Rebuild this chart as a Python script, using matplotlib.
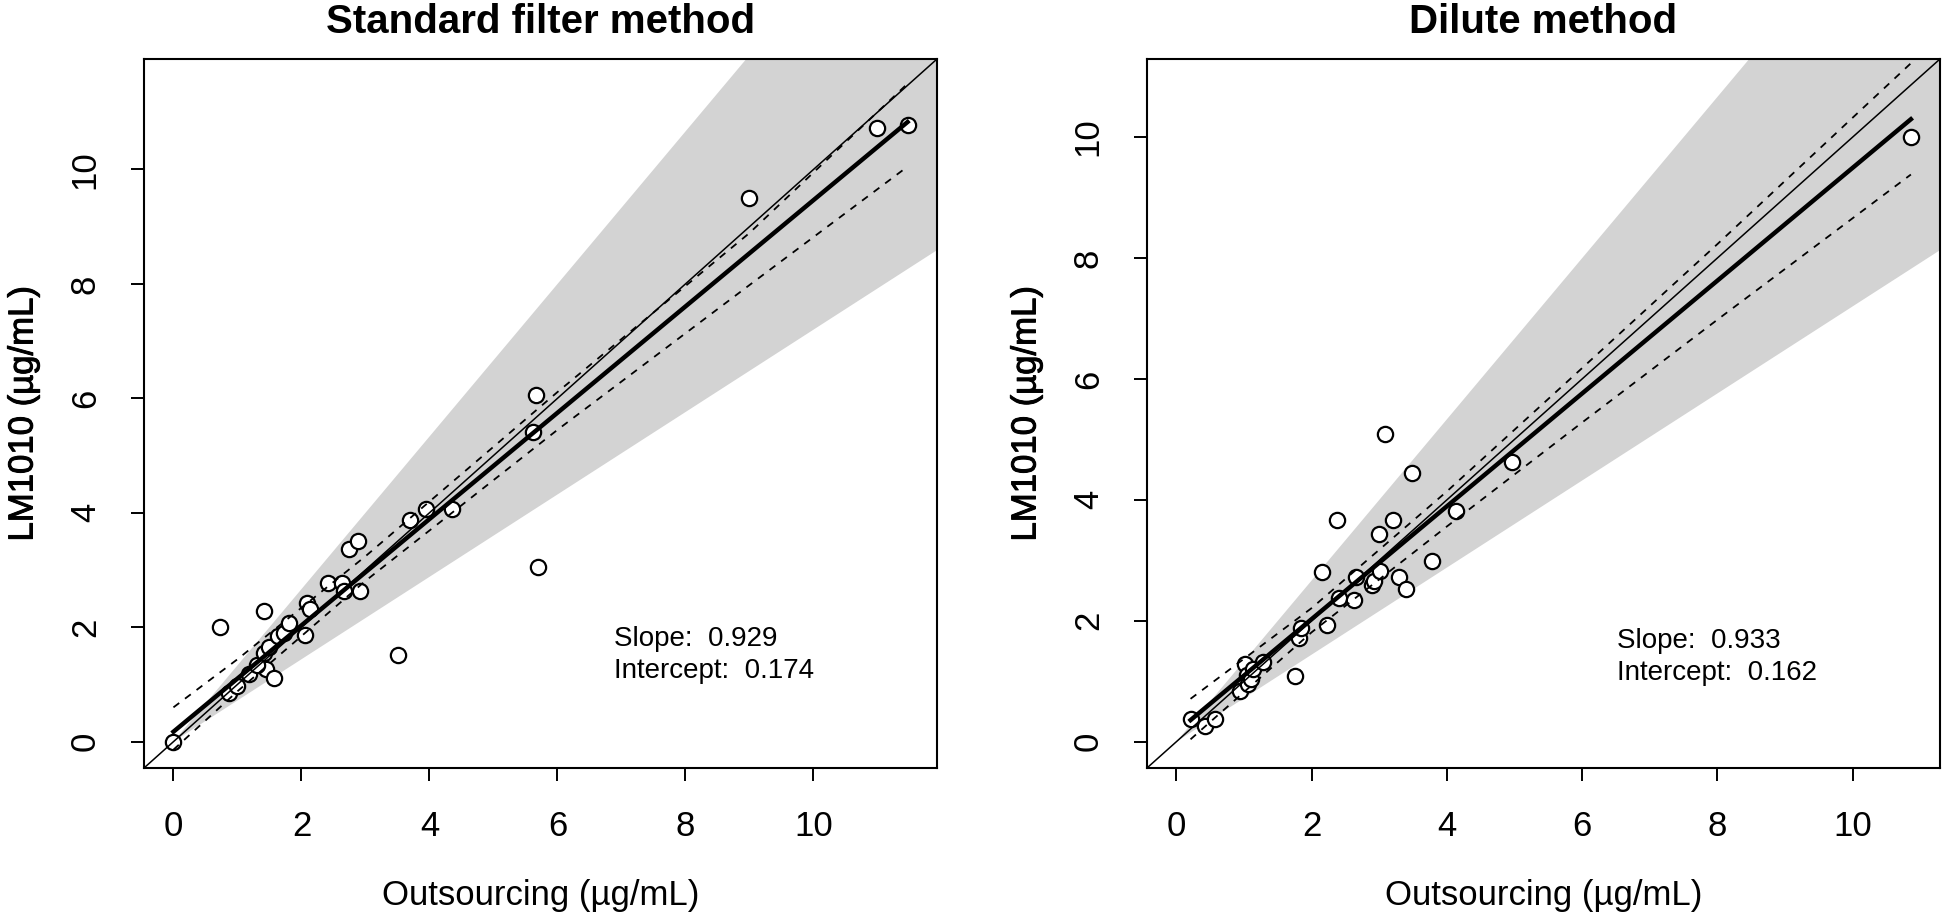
import numpy as np
import matplotlib
matplotlib.use("Agg")
import matplotlib.pyplot as plt
import matplotlib.patheffects as pe

plt.rcParams["font.family"] = ["Liberation Sans", "DejaVu Sans"]

# Standard filter method: Outsourcing (x) vs LM1010 (y), ug/mL
std_x = [0.00, 0.73, 1.41, 0.87, 1.00, 1.44, 1.57, 1.18, 1.30, 1.42, 1.49, 1.64,
         1.72, 1.80, 2.06, 2.09, 2.14, 2.42, 2.63, 2.66, 2.91, 2.75, 2.88, 3.70,
         3.95, 4.35, 3.51, 5.70, 5.66, 5.61, 9.00, 10.99, 11.47]
std_y = [0.00, 2.00, 2.28, 0.85, 0.98, 1.27, 1.12, 1.19, 1.34, 1.55, 1.66, 1.84,
         1.90, 2.07, 1.87, 2.43, 2.31, 2.78, 2.78, 2.63, 2.63, 3.37, 3.50, 3.88,
         4.07, 4.06, 1.52, 3.05, 6.05, 5.42, 9.51, 10.73, 10.78]
std_slope, std_intercept = 0.929, 0.174
std_ci_x = [0.0, 1.0, 3.0, 6.0, 9.0, 11.47]
std_ci_upper = [0.60, 1.44, 3.24, 6.11, 8.89, 11.50]
std_ci_lower = [-0.14, 0.88, 2.81, 5.45, 7.98, 10.05]
std_lim = (-0.46, 11.93)

# Dilute method
dil_x = [0.21, 0.43, 0.57, 0.94, 1.01, 1.04, 1.06, 1.11, 1.13, 1.28, 1.76, 1.82,
         1.85, 2.15, 2.23, 2.37, 2.41, 2.63, 2.66, 2.90, 2.92, 3.01, 2.99, 3.09,
         3.21, 3.29, 3.40, 3.48, 3.78, 4.13, 4.96, 10.86]
dil_y = [0.37, 0.26, 0.37, 0.84, 1.28, 1.11, 0.95, 1.03, 1.20, 1.32, 1.09, 1.72,
         1.88, 2.81, 1.93, 3.66, 2.38, 2.35, 2.73, 2.59, 2.66, 2.82, 3.44, 5.09,
         3.66, 2.73, 2.53, 4.45, 2.99, 3.81, 4.63, 10.00]
dil_slope, dil_intercept = 0.933, 0.162
dil_ci_x = [0.21, 2.0, 4.0, 6.0, 8.0, 10.86]
dil_ci_upper = [0.71, 2.21, 4.14, 6.18, 8.23, 11.22]
dil_ci_lower = [0.04, 1.81, 3.56, 5.28, 6.98, 9.38]
dil_lim = (-0.434, 11.29)

# acceptance cone (grey area), as slopes through the origin
band_upper = 1.333
band_lower = 0.72

panels = [
    ("Standard filter method", std_x, std_y, std_slope, std_intercept,
     std_ci_x, std_ci_upper, std_ci_lower, std_lim, (6.89, 1.79, 1.23)),
    ("Dilute method", dil_x, dil_y, dil_slope, dil_intercept,
     dil_ci_x, dil_ci_upper, dil_ci_lower, dil_lim, (6.51, 1.67, 1.14)),
]

fig = plt.figure(figsize=(19.46, 9.18), dpi=100)
positions = [[0.0740, 0.1634, 0.4075, 0.7723], [0.5894, 0.1634, 0.4075, 0.7723]]
ax_w, ax_h = 793, 709  # axes size in pixels, for placing labels

for pos, (title, x, y, b, a, cx, cu, cl, lim, txt) in zip(positions, panels):
    ax = fig.add_axes(pos)
    ax.set_xlim(lim)
    ax.set_ylim(lim)

    xx = np.array([0, 30])
    ax.fill_between(xx, band_lower * xx, band_upper * xx, color="#d3d3d3", lw=0, zorder=1)

    ax.plot(x, y, "o", ms=11, mfc="white", mec="black", mew=1.6, zorder=3)

    ax.plot(lim, lim, color="black", lw=1.1, zorder=4)
    xr = np.array([min(x), max(x)])
    ax.plot(xr, b * xr + a, color="black", lw=3.2, zorder=5)
    ax.plot(cx, cu, color="black", lw=1.3, dashes=(4, 4), zorder=4)
    ax.plot(cx, cl, color="black", lw=1.3, dashes=(4, 4), zorder=4)

    ax.text(txt[0], txt[1], f"Slope:  {b:.3f}", fontsize=20, va="center", ha="left")
    ax.text(txt[0], txt[2], f"Intercept:  {a:.3f}", fontsize=20, va="center", ha="left")

    ax.set_xticks([0, 2, 4, 6, 8, 10])
    ax.set_yticks([0, 2, 4, 6, 8, 10])
    ax.tick_params(labelsize=25, length=9.4, width=1.4, pad=21)
    for lab in ax.get_yticklabels():
        lab.set_rotation(90)
        lab.set_va("center")
    for s in ax.spines.values():
        s.set_linewidth(1.5)

    ax.text(0.5, 1 + 37 / ax_h, title, transform=ax.transAxes, fontsize=29,
            fontweight="bold", ha="center", va="center")
    ax.set_xlabel("Outsourcing (µg/mL)", fontsize=25, va="center")
    ax.xaxis.set_label_coords(0.5, -128 / ax_h)
    ax.set_ylabel("LM1010 (µg/mL)", fontsize=25, va="center",
                  path_effects=[pe.withStroke(linewidth=0.7, foreground="black")])
    ax.yaxis.set_label_coords(-121 / ax_w, 0.5)

fig.savefig("out.png", dpi=100)
